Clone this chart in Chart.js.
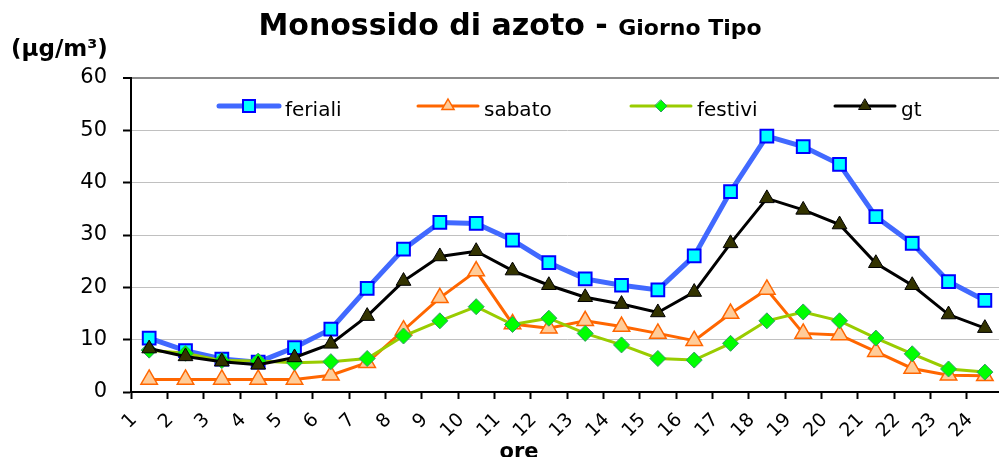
<!DOCTYPE html>
<html>
<head>
<meta charset="utf-8">
<script src="https://cdn.jsdelivr.net/npm/chart.js@4/dist/chart.umd.min.js"></script>
<style>
  body { margin: 0; background: #fff; }
  #wrap { width: 999px; height: 457px; overflow: hidden; position: relative; }
  /* the plot area runs past the right edge in the original, so the canvas is a bit wider */
  #inner { width: 1011px; height: 457px; position: relative; }
</style>
</head>
<body>
<div id="wrap"><div id="inner"><canvas id="noChart"></canvas></div></div>
<script>
// valori (µg/m3, medie orarie)
const ore = ['1', '2', '3', '4', '5', '6', '7', '8', '9', '10', '11', '12',
             '13', '14', '15', '16', '17', '18', '19', '20', '21', '22', '23', '24'];
const feriali = [10.3, 7.9, 6.3, 5.7, 8.5, 12.0, 19.8, 27.3, 32.4, 32.2, 29.0, 24.7,
                 21.6, 20.4, 19.5, 26.0, 38.3, 48.9, 46.9, 43.5, 33.5, 28.4, 21.1, 17.5];
const sabato = [2.4, 2.4, 2.4, 2.4, 2.4, 3.2, 5.6, 11.8, 18.0, 23.1, 13.0, 12.2,
                13.6, 12.5, 11.2, 9.8, 15.0, 19.6, 11.2, 10.9, 7.7, 4.5, 3.2, 3.1];
const festivi = [8.0, 7.4, 6.0, 5.9, 5.6, 5.8, 6.4, 10.7, 13.6, 16.3, 12.9, 14.1,
                 11.2, 9.0, 6.4, 6.1, 9.3, 13.6, 15.3, 13.6, 10.3, 7.3, 4.4, 3.8];
const gt = [8.3, 6.8, 5.8, 5.2, 6.6, 9.2, 14.5, 21.2, 25.9, 26.9, 23.2, 20.4,
            18.1, 16.8, 15.2, 19.1, 28.4, 37.0, 34.8, 32.0, 24.6, 20.4, 14.8, 12.2];

const FONT = '"DejaVu Sans", Verdana, sans-serif';

const series = [
    { label: 'feriali', data: feriali, line: '#4169ff', width: 5, fill: '#00ffff', border: '#0000ff', bw: 2, style: 'rect', r: 9, lr: 8.5 },
    { label: 'sabato', data: sabato, line: '#ff6600', width: 3, fill: '#ffcc99', border: '#ff6600', bw: 1.5, style: 'triangle', r: 9.5, lr: 7 },
    { label: 'festivi', data: festivi, line: '#99cc00', width: 3, fill: '#00ff00', border: '#339966', bw: 1, style: 'rectRot', r: 8, lr: 6 },
    { label: 'gt', data: gt, line: '#000000', width: 3, fill: '#333300', border: '#000000', bw: 1, style: 'triangle', r: 8.5, lr: 7 }
];

// piccolo disegno dei simboli per la legenda
function marker(ctx, s, x, y, r) {
    ctx.save();
    ctx.fillStyle = s.fill;
    ctx.strokeStyle = s.border;
    ctx.lineWidth = s.bw;
    ctx.beginPath();
    if (s.style === 'rect') {
        const h = r * Math.SQRT1_2;
        ctx.rect(x - h, y - h, 2 * h, 2 * h);
    } else if (s.style === 'rectRot') {
        ctx.moveTo(x, y - r); ctx.lineTo(x + r, y); ctx.lineTo(x, y + r); ctx.lineTo(x - r, y);
        ctx.closePath();
    } else {
        ctx.moveTo(x, y - r);
        ctx.lineTo(x + r * 0.866, y + r / 2);
        ctx.lineTo(x - r * 0.866, y + r / 2);
        ctx.closePath();
    }
    ctx.fill();
    ctx.stroke();
    ctx.restore();
}

const extraText = {
    id: 'extraText',
    afterDraw(chart) {
        const ctx = chart.ctx;
        ctx.save();
        ctx.fillStyle = '#000';
        ctx.textBaseline = 'alphabetic';
        // titolo su due pesi
        const t1 = 'Monossido di azoto - ';
        ctx.font = 'bold 30px ' + FONT;
        const w1 = ctx.measureText(t1).width;
        ctx.font = 'bold 22px ' + FONT;
        const w2 = ctx.measureText('Giorno Tipo').width;
        const x0 = 510 - (w1 + w2) / 2;
        ctx.textAlign = 'left';
        ctx.font = 'bold 30px ' + FONT;
        ctx.fillText(t1, x0, 35);
        ctx.font = 'bold 22px ' + FONT;
        ctx.fillText('Giorno Tipo', x0 + w1, 35);

        // unità
        ctx.font = 'bold 23px ' + FONT;
        ctx.fillText('(\u03bcg/m\u00b3)', 11, 56);

        // titolo asse x
        ctx.textAlign = 'center';
        ctx.font = 'bold 21px ' + FONT;
        ctx.fillText('ore', 519, 458);

        // legenda dentro l'area del grafico
        const lx = [219, 418, 631, 835];
        ctx.font = '20px ' + FONT;
        ctx.textAlign = 'left';
        series.forEach((s, i) => {
            const y = 106;
            ctx.strokeStyle = s.line;
            ctx.lineWidth = s.width;
            ctx.lineCap = 'round';
            ctx.beginPath();
            ctx.moveTo(lx[i], y);
            ctx.lineTo(lx[i] + 60, y);
            ctx.stroke();
            marker(ctx, s, lx[i] + 30, y, s.lr);
            ctx.fillStyle = '#000';
            ctx.fillText(s.label, lx[i] + 66, 116);
        });
        ctx.restore();
    }
};

new Chart(document.getElementById('noChart'), {
    type: 'line',
    data: {
        labels: ore,
        datasets: series.map((s, i) => ({
            label: s.label,
            data: s.data,
            borderColor: s.line,
            borderWidth: s.width,
            backgroundColor: s.fill,
            pointBackgroundColor: s.fill,
            pointBorderColor: s.border,
            pointBorderWidth: s.bw,
            pointStyle: s.style,
            pointRadius: s.r,
            pointHoverRadius: s.r,
            tension: 0,
            fill: false,
            order: series.length - i
        }))
    },
    options: {
        responsive: true,
        maintainAspectRatio: false,
        animation: false,
        layout: { autoPadding: false, padding: { top: 78, right: 0, left: 0, bottom: 0 } },
        plugins: {
            legend: { display: false },
            title: { display: false },
            tooltip: { enabled: false }
        },
        scales: {
            x: {
                type: 'category',
                offset: true,
                afterFit: (scale) => { scale.height = 65; },
                border: { color: '#000', width: 2 },
                grid: {
                    offset: true,
                    drawOnChartArea: false,
                    drawTicks: true,
                    tickLength: 7,
                    tickColor: '#000',
                    tickWidth: 2
                },
                ticks: {
                    autoSkip: false,
                    minRotation: 45,
                    maxRotation: 45,
                    labelOffset: -15,
                    padding: 10,
                    color: '#000',
                    font: { family: FONT, size: 19 }
                }
            },
            y: {
                min: 0,
                max: 60,
                afterFit: (scale) => { scale.width = 131; },
                border: { color: '#000', width: 2 },
                grid: {
                    color: (c) => (c.tick && c.tick.value === 60 ? '#8c8c8c' : '#c0c0c0'),
                    lineWidth: (c) => (c.tick && c.tick.value === 60 ? 2 : 1),
                    tickColor: '#000',
                    tickLength: 8,
                    tickWidth: 2
                },
                ticks: {
                    stepSize: 10,
                    padding: 16,
                    color: '#000',
                    font: { family: FONT, size: 21 }
                }
            }
        }
    },
    plugins: [extraText]
});
</script>
</body>
</html>
